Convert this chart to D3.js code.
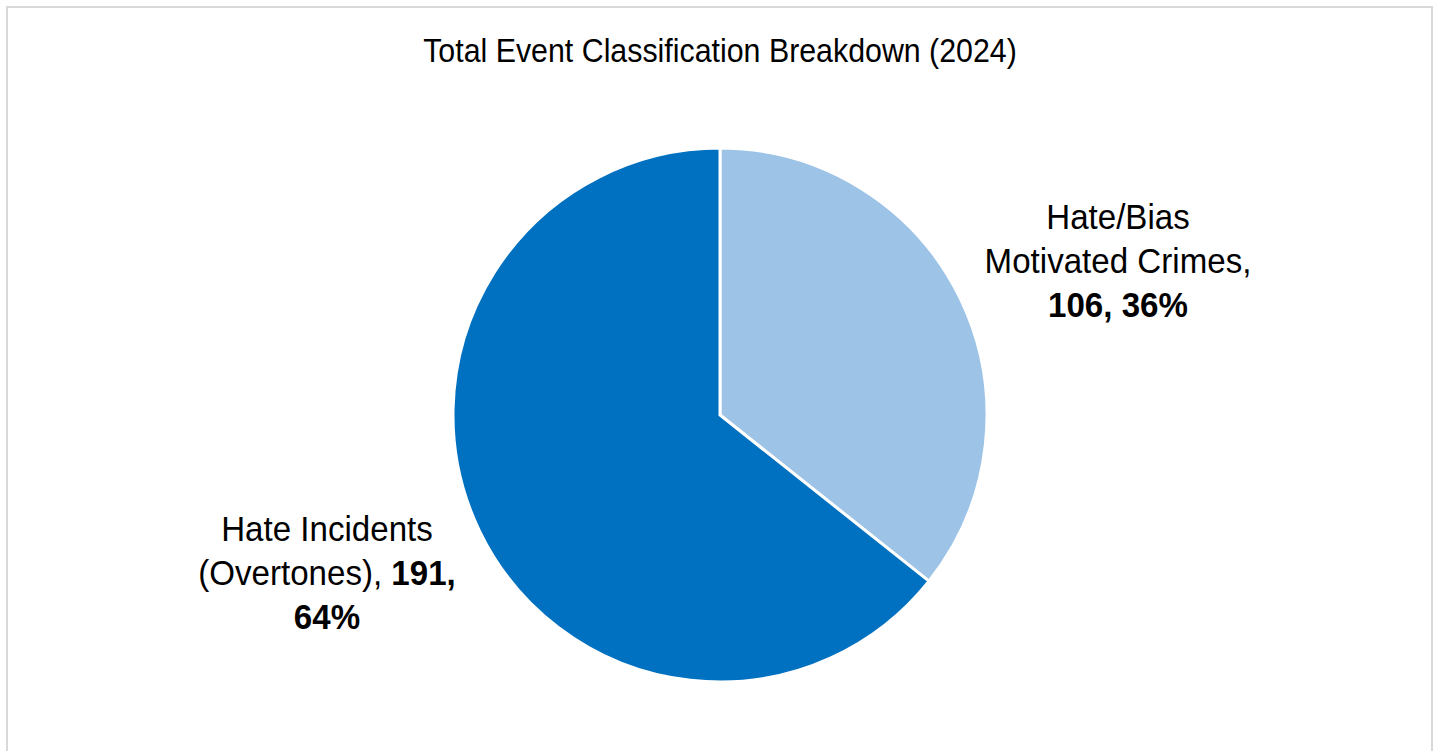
<!DOCTYPE html>
<html>
<head>
<meta charset="utf-8">
<script src="https://cdn.jsdelivr.net/npm/d3@7"></script>
<style>
  body { margin: 0; background: #fff; }
  text { font-family: "Liberation Sans Narrow", "Arial Narrow", "Liberation Sans", sans-serif; fill: #000; }
</style>
</head>
<body>
<script>
"use strict";

// data
const categories = ['Hate/Bias Motivated Crimes', 'Hate Incidents (Overtones)'];
const counts = [106, 191];
const percents = ['36%', '64%'];
const colors = ['#9DC3E6', '#0070C0'];
const title = 'Total Event Classification Breakdown (2024)';

const width = 1437, height = 751;
// no narrow font installed, so squeeze the regular one a bit
const squeeze = 0.92;

const svg = d3.select('body')
    .append('svg')
    .attr('width', width)
    .attr('height', height);

// chart frame
svg.append('rect')
    .attr('x', 7).attr('y', 7)
    .attr('width', 1425).attr('height', 760)
    .attr('fill', '#fff')
    .attr('stroke', '#d9d9d9')
    .attr('stroke-width', 2);

svg.append('g')
    .attr('transform', 'translate(720,62) scale(' + squeeze + ',1)')
    .append('text')
    .attr('text-anchor', 'middle')
    .style('font-size', '33px')
    .text(title);

let cx = 720, cy = 415, r = 267;

let pie = d3.pie().sort(null);
let arc = d3.arc().innerRadius(0).outerRadius(r);

let g = svg.append('g')
    .attr('transform', 'translate(' + cx + ',' + cy + ')');

g.selectAll('.slice')
    .data(pie(counts))
    .enter()
    .append('path')
    .attr('class', 'slice')
    .attr('d', arc)
    .attr('fill', function(d, i) { return colors[i]; })
    .attr('stroke', '#fff')
    .attr('stroke-width', 3)
    .attr('stroke-linejoin', 'miter');

// labels: split into lines like the original
let labels = [
    { x: 1118, y: 229, lines: [
        [{ t: 'Hate/Bias' }],
        [{ t: 'Motivated Crimes,' }],
        [{ t: counts[0] + ', ' + percents[0], b: true }]
    ]},
    { x: 327, y: 541, lines: [
        [{ t: 'Hate Incidents' }],
        [{ t: '(Overtones), ' }, { t: counts[1] + ',', b: true }],
        [{ t: percents[1], b: true }]
    ]}
];

labels.forEach(function(lab) {
    let t = svg.append('g')
        .attr('transform', 'translate(' + lab.x + ',' + lab.y + ') scale(' + squeeze + ',1)')
        .append('text')
        .attr('text-anchor', 'middle')
        .style('font-size', '36px');
    lab.lines.forEach(function(parts, li) {
        parts.forEach(function(p, pi) {
            let ts = t.append('tspan').text(p.t)
                .style('font-weight', p.b ? 'bold' : 'normal');
            if (pi === 0) ts.attr('x', 0).attr('y', li * 44);
        });
    });
});
</script>
</body>
</html>
